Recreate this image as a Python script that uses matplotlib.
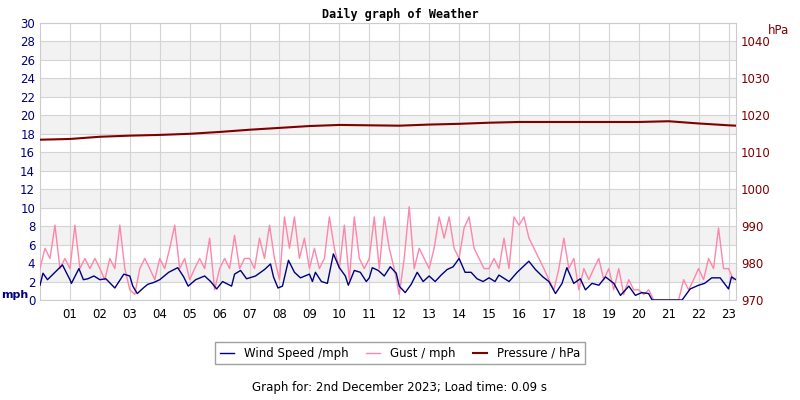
import numpy as np
import matplotlib
matplotlib.use("Agg")
import matplotlib.pyplot as plt

wind_hours = [0.0,0.1,0.25,0.5,0.75,1.0,1.05,1.3,1.45,1.6,1.8,2.0,2.2,2.5,2.8,3.0,3.1,3.25,3.45,3.6,3.8,4.0,4.3,4.6,4.8,4.95,5.2,5.5,5.7,5.9,6.1,6.4,6.5,6.7,6.9,7.2,7.5,7.7,7.8,7.95,8.1,8.3,8.5,8.7,9.0,9.1,9.2,9.4,9.6,9.8,10.0,10.2,10.3,10.5,10.7,10.9,11.0,11.1,11.3,11.5,11.7,11.9,12.0,12.2,12.4,12.6,12.8,13.0,13.2,13.4,13.6,13.8,14.0,14.2,14.4,14.6,14.8,15.0,15.2,15.33,15.67,15.94,16.33,16.55,16.8,17.0,17.22,17.44,17.6,17.83,18.05,18.22,18.44,18.67,18.89,19.17,19.39,19.67,19.89,20.1,20.33,20.45,21.45,21.72,22.0,22.2,22.44,22.72,23.0,23.1,23.25]
wind_mph = [1.6,2.9,2.2,3.0,3.8,2.2,1.8,3.4,2.2,2.3,2.6,2.2,2.3,1.3,2.8,2.6,1.5,0.7,1.3,1.7,1.9,2.2,3.0,3.5,2.5,1.5,2.2,2.6,2.0,1.2,2.0,1.5,2.8,3.2,2.3,2.6,3.3,3.9,2.5,1.3,1.5,4.3,3.0,2.4,2.8,2.0,3.0,2.0,1.8,5.0,3.5,2.6,1.6,3.2,3.0,2.0,2.4,3.5,3.2,2.6,3.6,2.9,1.5,0.8,1.7,3.0,2.0,2.6,2.0,2.7,3.3,3.6,4.5,3.0,3.0,2.3,2.0,2.4,2.0,2.7,2.0,3.0,4.2,3.3,2.5,2.0,0.7,1.8,3.5,1.8,2.3,1.1,1.8,1.6,2.5,1.8,0.5,1.5,0.5,0.8,0.7,0.0,0.0,1.2,1.6,1.8,2.4,2.4,1.2,2.5,2.2]

gust_mph = [3.4,5.6,4.5,8.1,3.4,4.5, 3.4,8.1,3.4,4.5,3.4,4.5, 3.4,2.2,4.5,3.4,8.1,3.4,
            1.1,0.6,3.4,4.5,3.4,2.2, 4.5,3.4,5.6,8.1,3.4,4.5, 2.2,3.4,4.5,3.4,6.7,1.1,
            3.4,4.5,3.4,7.0,3.4,4.5, 4.5,3.4,6.7,4.5,8.1,4.5, 2.2,9.0,5.6,9.0,4.5,6.7,
            3.4,5.6,3.4,4.5,9.0,5.6, 3.4,8.1,2.2,9.0,4.5,3.4, 4.5,9.0,3.4,9.0,5.6,3.4,
            0.6,4.5,10.1,3.4,5.6,4.5, 3.4,5.6,9.0,6.7,9.0,5.6, 4.5,7.8,9.0,5.6,4.5,3.4,
            3.4,4.5,3.4,6.7,3.4,9.0, 8.1,9.0,6.7,5.6,4.5,3.4, 2.2,1.1,3.4,6.7,3.4,4.5,
            1.1,3.4,2.2,3.4,4.5,2.2, 3.4,1.1,3.4,0.6,2.2,1.1, 1.1,0.6,1.1,0.0,0.0,0.0,
            0.0,0.0,0.0,2.2,1.1,2.2, 3.4,2.2,4.5,3.4,7.8,3.4, 3.4,2.2]

pres_hours = [0,1,2,3,4,5,6,7,8,9,10,11,12,13,14,15,16,17,18,19,20,21,22,23,23.25]
pres_hpa = [1013.4,1013.6,1014.2,1014.5,1014.7,1015.0,1015.5,1016.1,1016.6,1017.1,1017.4,1017.3,1017.2,1017.5,1017.7,1018.0,1018.2,1018.2,1018.2,1018.2,1018.2,1018.4,1017.8,1017.3,1017.2]

hour_labels = ["%02d" % h for h in range(1, 24)]

fig = plt.figure(figsize=(8, 4), dpi=100)
ax = fig.add_axes([0.05, 0.25, 0.87, 0.6925])
xmax = 23.25
for lo in range(2, 30, 4):
    ax.axhspan(lo, lo + 2, color="#f2f2f2", zorder=0, lw=0)
ax.set_xlim(0, xmax)
ax.set_ylim(0, 30)
ax.set_yticks(range(0, 31, 2))
ax.set_xticks(range(1, 24))
ax.set_xticklabels(hour_labels)
ax.grid(True, color="#d4d4d4", lw=0.8, zorder=1)
ax.tick_params(axis="both", length=0, labelsize=8.5)
ax.tick_params(axis="y", colors="#000080")
ax.tick_params(axis="x", pad=6)
for s in ax.spines.values():
    s.set_color("#cccccc")

gust_hours = np.arange(len(gust_mph)) / 6.0
ax2 = ax.twinx()
ax2.set_ylim(970, 1045)
ax2.set_yticks(range(970, 1041, 10))
ax2.tick_params(axis="y", length=0, labelsize=8.5, colors="#800000")
for s in ax2.spines.values():
    s.set_visible(False)

lg, = ax.plot(gust_hours, gust_mph, color="#ff85aa", lw=1, zorder=3)
lw, = ax.plot(wind_hours, wind_mph, color="#000080", lw=1, zorder=4)
lp, = ax2.plot(pres_hours, pres_hpa, color="#800000", lw=1.5)

fig.text(0.5, 0.965, "Daily graph of Weather", ha="center", va="center",
         family="DejaVu Sans Mono", fontsize=8.5, fontweight="bold")
fig.text(0.001, 0.262, "mph", color="#000080", fontsize=8, fontweight="bold", va="center")
fig.text(0.96, 0.925, "hPa", color="#800000", fontsize=8.5, va="center")
fig.legend([lw, lg, lp], ["Wind Speed /mph", "Gust / mph", "Pressure / hPa"],
           loc="center", bbox_to_anchor=(0.5, 0.117), ncol=3, fontsize=8.5,
           frameon=True, fancybox=False, edgecolor="#888888", handlelength=1.2,
           columnspacing=1.5)
fig.text(0.5, 0.032, "Graph for: 2nd December 2023; Load time: 0.09 s", ha="center",
         va="center", fontsize=8.5)
fig.savefig("out.png", dpi=100)
